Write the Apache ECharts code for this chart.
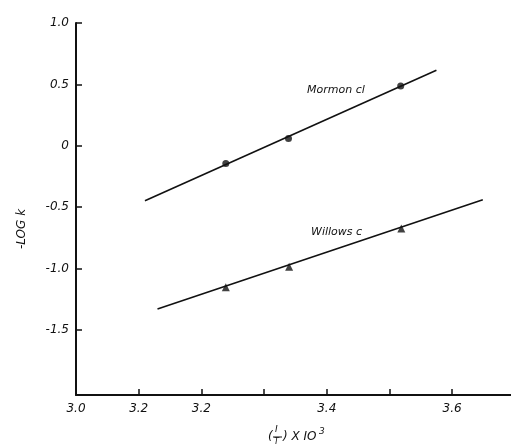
<!DOCTYPE html>
<html>
<head>
<meta charset="utf-8">
<script src="https://cdn.jsdelivr.net/npm/echarts@6/dist/echarts.min.js"></script>
<style>
  html, body { margin: 0; padding: 0; background: #fff; }
  #chart { width: 511px; height: 447px; }
</style>
</head>
<body>
<div id="chart"></div>
<script>
// measured points, x = (1/T) x 10^3, y = -log k
var mormonX = [3.239, 3.339, 3.518];
var mormonY = [-0.144, 0.059, 0.487];
var willowsX = [3.239, 3.340, 3.519];
var willowsY = [-1.153, -0.985, -0.673];

// fitted lines (end points)
var mormonLineX = [3.110, 3.575];
var mormonLineY = [-0.448, 0.615];
var willowsLineX = [3.130, 3.649];
var willowsLineY = [-1.330, -0.439];

// axis ticks and the labels printed under them
var xTickValues = [3.1, 3.2, 3.3, 3.4, 3.5, 3.6];
var xLabelValues = [3.0, 3.1, 3.2, 3.4, 3.6];
var xLabelText = ['3.0', '3.2', '3.2', '3.4', '3.6'];
var yTickValues = [1.0, 0.5, 0, -0.5, -1.0, -1.5];
var yLabelText = ['1.0', '0.5', '0', '-0.5', '-1.0', '-1.5'];

function zip(a, b) {
    var out = [];
    for (var i = 0; i < a.length; i++) out.push([a[i], b[i]]);
    return out;
}

var font = 'DejaVu Sans';
var ink = '#111';

var myChart = echarts.init(document.getElementById('chart'));
var option = {
    backgroundColor: '#fff',
    animation: false,
    grid: { left: 76, top: 23, right: 0, bottom: 52 },
    xAxis: {
        type: 'value',
        min: 3.0,
        max: 3.694,
        splitLine: { show: false },
        axisLine: { onZero: false, lineStyle: { color: ink, width: 2 } },
        axisTick: { inside: true, length: 6, customValues: xTickValues, lineStyle: { color: ink, width: 1.5 } },
        axisLabel: {
            customValues: xLabelValues,
            margin: 8,
            color: ink,
            fontFamily: font,
            fontStyle: 'italic',
            fontSize: 12,
            formatter: function (v) {
                for (var i = 0; i < xLabelValues.length; i++) {
                    if (Math.abs(xLabelValues[i] - v) < 1e-6) return xLabelText[i];
                }
                return '';
            }
        }
    },
    yAxis: {
        type: 'value',
        min: -2.03,
        max: 1.0,
        splitLine: { show: false },
        axisLine: { onZero: false, lineStyle: { color: ink, width: 2 } },
        axisTick: { inside: true, length: 6, customValues: yTickValues, lineStyle: { color: ink, width: 1.5 } },
        axisLabel: {
            customValues: yTickValues,
            margin: 7,
            color: ink,
            fontFamily: font,
            fontStyle: 'italic',
            fontSize: 12,
            formatter: function (v) {
                for (var i = 0; i < yTickValues.length; i++) {
                    if (Math.abs(yTickValues[i] - v) < 1e-6) return yLabelText[i];
                }
                return '';
            }
        }
    },
    series: [
        {
            name: 'Mormon cl fit', type: 'line', data: zip(mormonLineX, mormonLineY),
            symbol: 'none', lineStyle: { color: ink, width: 1.6 }
        },
        {
            name: 'Willows c fit', type: 'line', data: zip(willowsLineX, willowsLineY),
            symbol: 'none', lineStyle: { color: ink, width: 1.6 }
        },
        {
            name: 'Mormon cl', type: 'scatter', data: zip(mormonX, mormonY),
            symbol: 'circle', symbolSize: 7, itemStyle: { color: ink }
        },
        {
            name: 'Willows c', type: 'scatter', data: zip(willowsX, willowsY),
            symbol: 'triangle', symbolSize: 8, itemStyle: { color: ink }
        }
    ],
    graphic: [
        { type: 'text', left: 307, top: 85, style: { text: 'Mormon cl', font: 'italic 11px "DejaVu Sans"', fill: ink } },
        { type: 'text', left: 311, top: 227, style: { text: 'Willows c', font: 'italic 11px "DejaVu Sans"', fill: ink } },
        {
            type: 'text', x: 22, y: 229, rotation: Math.PI / 2,
            style: { text: '-LOG k', font: 'italic 12px "DejaVu Sans"', fill: ink, align: 'center', verticalAlign: 'middle' }
        },
        // x axis title: ( 1/T ) X 10^3
        { type: 'text', left: 268, top: 431, style: { text: '(', font: 'italic 12px "DejaVu Sans"', fill: ink } },
        { type: 'text', left: 275, top: 425, style: { text: 'I', font: 'italic 9px "DejaVu Sans"', fill: ink } },
        { type: 'line', shape: { x1: 273, y1: 437, x2: 282, y2: 437 }, style: { stroke: ink, lineWidth: 1 } },
        { type: 'text', left: 274, top: 438, style: { text: 'T', font: 'italic 8px "DejaVu Sans"', fill: ink } },
        { type: 'text', left: 283, top: 431, style: { text: ') X IO', font: 'italic 12px "DejaVu Sans"', fill: ink } },
        { type: 'text', left: 319, top: 427, style: { text: '3', font: 'italic 9px "DejaVu Sans"', fill: ink } }
    ]
};
myChart.setOption(option);
</script>
</body>
</html>
